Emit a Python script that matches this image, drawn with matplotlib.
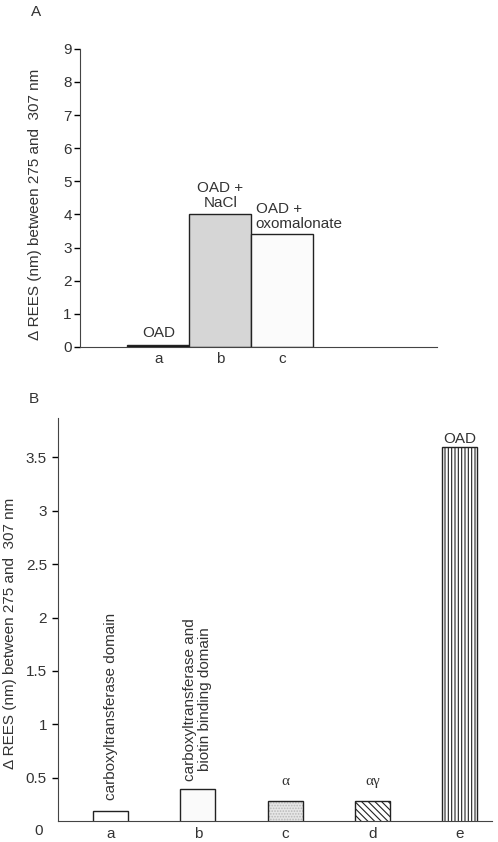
import numpy as np
import matplotlib.pyplot as plt

plt.rcParams['font.family'] = ['Liberation Sans', 'DejaVu Sans']
plt.rcParams['hatch.linewidth'] = 0.8

# panel A data
a_cats = ['a', 'b', 'c']
a_vals = [0.05, 4.02, 3.4]
a_notes = ['OAD', 'OAD +\nNaCl', 'OAD +\noxomalonate']

# panel B data
b_cats = ['a', 'b', 'c', 'd', 'e']
b_vals = [0.19, 0.39, 0.28, 0.28, 3.6]
b_notes = ['carboxyltransferase domain',
           'carboxyltransferase and\nbiotin binding domain',
           '\u03b1', '\u03b1\u03b3', 'OAD']

ylab = '\u0394 REES (nm) between 275 and  307 nm'
tc = '#333333'

fig = plt.figure(figsize=(4.98, 8.42), dpi=100)

# ---- panel A ----
ax1 = fig.add_axes([0.161, 0.588, 0.717, 0.354])
xa = np.arange(1, len(a_cats) + 1)
fills = ['#111111', '#d6d6d6', '#fbfbfb']
ax1.bar(xa, a_vals, width=1.0, color=fills, edgecolor='#222222', linewidth=1)
ax1.set_xlim(-0.26, 5.5)
ax1.set_ylim(0, 9)
ax1.set_yticks(range(10))
ax1.set_xticks(xa)
ax1.set_xticklabels(a_cats)
ax1.tick_params(axis='x', length=0, pad=4, labelsize=11, labelcolor=tc)
ax1.tick_params(axis='y', length=4, width=1, direction='out', pad=2, labelsize=11, labelcolor=tc)
for s in ['top', 'right']:
    ax1.spines[s].set_visible(False)
for s in ['left', 'bottom']:
    ax1.spines[s].set_color('#444444')
ax1.set_ylabel(ylab, fontsize=11, color=tc)
ax1.yaxis.set_label_coords(-0.106, 0.477)
ax1.text(xa[0], a_vals[0] + 0.15, a_notes[0], ha='center', va='bottom', fontsize=11, color=tc)
ax1.text(xa[1], a_vals[1] + 0.1, a_notes[1], ha='center', va='bottom', fontsize=11, color=tc,
         linespacing=1.1)
ax1.text(xa[2] - 0.43, a_vals[2] + 0.1, a_notes[2], ha='left', va='bottom', fontsize=11, color=tc,
         linespacing=1.1)
fig.text(36 / 498, 1 - 12 / 842, 'A', ha='center', va='center', fontsize=11, color=tc)

# ---- panel B ----
ax2 = fig.add_axes([58 / 498, 1 - 821 / 842, (492 - 58) / 498, (821 - 418) / 842])
xb = np.arange(1, len(b_cats) + 1)
ax2.bar(xb[0], b_vals[0], width=0.4, color='white', edgecolor='#222222', linewidth=1)
ax2.bar(xb[1], b_vals[1], width=0.4, color='#fafafa', edgecolor='#222222', linewidth=1)
# stippled fill, then the outline on top
ax2.bar(xb[2], b_vals[2], width=0.4, color='#e6e6e6', edgecolor='#b8b8b8', linewidth=0,
        hatch='......')
ax2.bar(xb[2], b_vals[2], width=0.4, fill=False, edgecolor='#222222', linewidth=1)
ax2.bar(xb[3], b_vals[3], width=0.4, color='white', edgecolor='#222222', linewidth=1,
        hatch='\\\\\\\\\\')
ax2.bar(xb[4], b_vals[4], width=0.4, color='white', edgecolor='#222222', linewidth=1,
        hatch='|||||')
ax2.set_xlim(0.397, 5.37)
ax2.set_ylim(0.093, 3.87)
ax2.set_yticks([0.5, 1, 1.5, 2, 2.5, 3, 3.5])
ax2.set_yticklabels(['0.5', '1', '1.5', '2', '2.5', '3', '3.5'])
ax2.set_xticks(xb)
ax2.set_xticklabels(b_cats)
ax2.tick_params(axis='x', length=0, pad=4, labelsize=11, labelcolor=tc)
ax2.tick_params(axis='y', length=4, width=1, direction='out', pad=4, labelsize=11, labelcolor=tc)
ax2.text(-0.035, 0.0, '0', transform=ax2.get_yaxis_transform(), ha='right', va='center',
         fontsize=11, color=tc, clip_on=False)
for s in ['top', 'right']:
    ax2.spines[s].set_visible(False)
for s in ['left', 'bottom']:
    ax2.spines[s].set_color('#444444')
ax2.set_ylabel(ylab, fontsize=11, color=tc)
ax2.yaxis.set_label_coords(-0.094, 0.466)
ax2.text(xb[0], b_vals[0] + 0.1, b_notes[0], rotation=90, ha='center', va='bottom',
         fontsize=11, color=tc)
ax2.text(xb[1], b_vals[1] + 0.08, b_notes[1], rotation=90, ha='center', va='bottom',
         fontsize=11, color=tc, linespacing=1.1)
ax2.text(xb[2], b_vals[2] + 0.12, b_notes[2], ha='center', va='bottom', fontsize=11, color=tc,
         family='Liberation Serif')
ax2.text(xb[3], b_vals[3] + 0.12, b_notes[3], ha='center', va='bottom', fontsize=11, color=tc,
         family='Liberation Serif')
ax2.text(xb[4], b_vals[4] + 0.01, b_notes[4], ha='center', va='bottom', fontsize=11, color=tc)
fig.text(34 / 498, 1 - 399 / 842, 'B', ha='center', va='center', fontsize=11, color=tc)

fig.savefig('out.png', dpi=100)
